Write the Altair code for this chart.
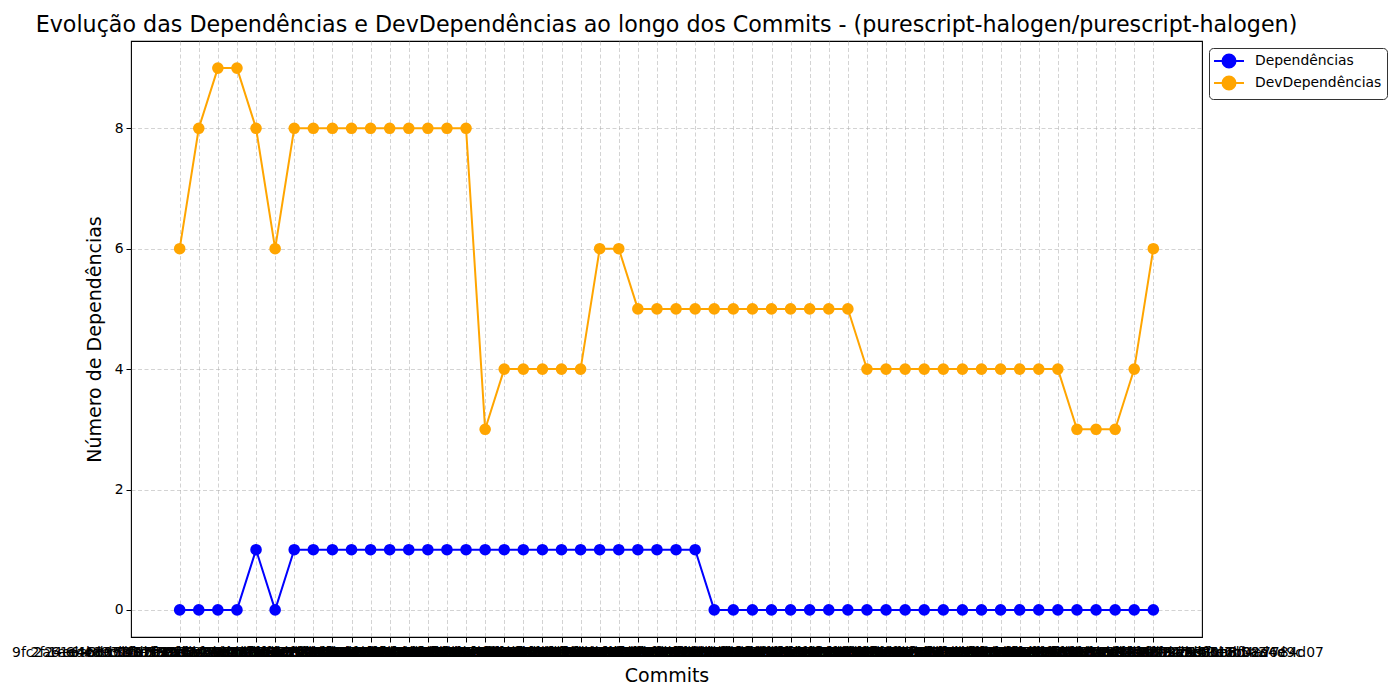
import altair as alt
import pandas as pd

commits = [
    "9fc2a61e4b8d73f05c19e2a7b6d408f3c15e9a72",
    "2f24e6a8c1d03b597f6e42a81c9d0b35e7f4a612",
    "1e6b4d9c02a7f38e5b16c4d90a2e7f13b8c56d04",
    "a4c8e31f07b29d6e54a1c8f03e7b29d46a15c8e0",
    "6d05b7e3a9c41f28d6e0b3a75c19f4e82d7a03b6",
    "c3b81f5e94a27d06c8e3b51f4a92d7e06b3c85f1",
    "4e7a92d0c61b38f5e4a7d29c03b6e81f5a4d7c92",
    "b58d3e1a7c04f96b2e5d8a31c7f0b49e6d2a5c83",
    "07f1c4a8e3d96b25f0c7a41e8d3b69f2c5a0e714",
    "d92e6b0f5a38c71e4d9b26f0a5c83e17b4d92a6f",
    "58a3d7c1e6f04b92a8d5c37e1f60b49d2a8c5e3f",
    "e16f9b4d2c75a08e3f1b6d94c2a75e08f3b1d6c9",
    "3c5a07e8b1d94f62c3a5e07b8d1f94a6c2e5b07d",
    "f8b2d5a6c09e37f1b8d2a5c60e93b7f1d8a2c5e6",
    "72e9c4b1a5d08f36e2c9b4a71d50f83e6c2b9a4d",
    "ad4f1c8e7b63d20a9f4c1e87b6d32a0f9c4e1b8a",
    "15c7e3a9d0b64f82c1e7a39d0b6f48e2a5c7e3d9",
    "8b0d6f2a4e91c37b5d0f6a24e91c7b3d5f0a6e24",
    "c6e3a81d7f05b94c2e6a38d1f7b05c94e2a6d381",
    "4a91f7c3e8b25d06a4f91c7e3b82d50a6f4c91e7",
    "e05b3d8f1a6c79e2b05d3f81a6c97e2d0b5f3a81",
    "93d7a2c5f0e48b16d93a7c25e0f48b1d6a93c7f2",
    "5f1e8b4a7d20c63f9e1b84a7d2c06f3e9b1a84d7",
    "b7c4f09e2a58d31b7c4e09f2a5d83c1b7e4f09a2",
    "2d8a6e3c9f14b70d28e6a3c9f41b7d02a8e6c39f",
    "f4a0c75e1b93d68f4c0a75e1d9b36f8a4c07e51b",
    "68e5b2d9a4c07f31e68b52d9c4a07e3f16b8e52d",
    "a1d9f36c8e02b74a1f9d36e8c02b7a4d1f936c8e",
    "3e7c05a9b2f68d14e7c0a59b2d6f8e14c7a05b9d",
    "c92b68f4e1a37d05c2b96f84e1d3a705b9c2f68e",
    "71f4d3b8a6e09c25f714db38a6c09e2f5d71b4a3",
    "d5a83e0c7f29b16d5a8e03c7b2f91d6a5e83c0f7",
    "0b6e9a4d3c58f72b06e9d4a3c5f87b2e06a9d4c3",
    "8f3c17e5b0d94a26f8c31e7b5d09a4f26c8e317b",
    "e47a2d9f6c13b85e4a72f9d6c1b38e5a47d2f96c",
    "59d0c8a3e7f26b14d59c0a8e3f7b2d614c5d0a8e",
    "b2e81f6d4a95c37b2e8f16d4c9a53e7b2f81d6c4",
    "16a5d3c0f8e49b72a16d5c30e8f4b97a2d16c53f",
    "ca397e2b5f18d06a3c97e2f5b1d80c6a39e72b5f",
    "7d4f6b19c3a8e25d74f6b91a3c8e52f7d4b69c1a",
    "e8c2a05d7b3f96e18c2a50d7f3b9e6c18a2d05b7",
    "43b9e76f2d0a18c53b9e7f62a0d81c4b39e76d2f",
    "f06d3c8a91e4b57f06c3d8a9e14b7f50d6c38a9e",
    "95a2f4e07c6d31b95a2e4f07d6c3b19a5f2e40c7",
    "2c7e91b3d5f08a42c7e1b93f5d0a84e2c79b13d5",
    "db48c6a2e93f17d4b8c6e2a9f317db4c86a2e93f",
    "60f5a3d8c17e29b60f5d3a8c71e92f6b05a3d8c1",
    "a7e2c94f0b6d83a7e2c49f0d6b38e7a2c94f0b6d",
    "1b9d7e5c3a28f04b19d7c5e3a82f04d1b9e7c5a3",
    "e3c6b08a4d91f75e3c6a08b4f9d17e53c6b08a4d",
    "8a0f2d6e9c47b13a80f2e6d9c74b31a8f02d6e9c",
    "c5d1b8e3f96a0c2e4b1f3a9d6c05e8b4a7784d07",
]

dependencias = [0, 0, 0, 0, 1, 0, 1, 1, 1, 1, 1, 1, 1, 1, 1, 1, 1, 1, 1, 1,
                1, 1, 1, 1, 1, 1, 1, 1, 0, 0, 0, 0, 0, 0, 0, 0, 0, 0, 0, 0,
                0, 0, 0, 0, 0, 0, 0, 0, 0, 0, 0, 0]
dev_dependencias = [6, 8, 9, 9, 8, 6, 8, 8, 8, 8, 8, 8, 8, 8, 8, 8, 3, 4, 4, 4,
                    4, 4, 6, 6, 5, 5, 5, 5, 5, 5, 5, 5, 5, 5, 5, 5, 4, 4, 4, 4,
                    4, 4, 4, 4, 4, 4, 4, 3, 3, 3, 4, 6]

series_names = ["Dependências", "DevDependências"]
series_colors = ["blue", "orange"]

rows = []
for i, c in enumerate(commits):
    rows.append({"idx": i, "commit": c, "serie": series_names[0], "valor": dependencias[i]})
for i, c in enumerate(commits):
    rows.append({"idx": i, "commit": c, "serie": series_names[1], "valor": dev_dependencias[i]})
df = pd.DataFrame(rows)

n = len(commits)
label_expr = "[" + ",".join("'" + c + "'" for c in commits) + "][datum.value]"

FONT = "DejaVu Sans"
TICK_FS = 13.9

# legend glyph: a short line with a filled circle in its middle
legend_path = ("M-1.14,0L0.07,0M1.93,0L3.14,0"
               "M1.93,0A0.93,0.93,0,1,1,0.07,0A0.93,0.93,0,1,1,1.93,0Z")

x_enc = alt.X(
    "idx:Q",
    scale=alt.Scale(domain=[-0.05 * (n - 1), (n - 1) * 1.05], nice=False, zero=False),
    axis=alt.Axis(
        title="Commits",
        values=list(range(n)),
        labelExpr=label_expr,
        labelAngle=0,
        labelOverlap=False,
        labelFlush=False,
        labelBound=False,
        labelLimit=0,
        titleFontSize=19,
        titlePadding=8,
    ),
)
y_enc = alt.Y(
    "valor:Q",
    scale=alt.Scale(domain=[-0.45, 9.45], nice=False, zero=False),
    axis=alt.Axis(
        title="Número de Dependências",
        values=[0, 2, 4, 6, 8],
        format="d",
        titleFontSize=19,
        titlePadding=10,
    ),
)
color_enc = alt.Color(
    "serie:N",
    scale=alt.Scale(domain=series_names, range=series_colors),
    legend=alt.Legend(
        title=None,
        orient="none",
        legendX=1078,
        legendY=7,
        labelFontSize=13.9,
        labelFont=FONT,
        labelColor="black",
        symbolType=legend_path,
        symbolSize=196,
        symbolStrokeWidth=2,
        symbolOpacity=1,
        strokeColor="#333333",
        fillColor="white",
        cornerRadius=4,
        padding=5,
        rowPadding=0,
        labelOffset=25,
    ),
)

base = alt.Chart(df).encode(x=x_enc, y=y_enc, color=color_enc, detail="serie:N")

lines = base.mark_line(strokeWidth=2)
points = base.mark_circle(size=135, opacity=1)

chart = (
    alt.layer(lines, points)
    .properties(
        width=1071,
        height=596,
        title=alt.TitleParams(
            "Evolução das Dependências e DevDependências ao longo dos Commits - (purescript-halogen/purescript-halogen)",
            fontSize=22.2,
            font=FONT,
            fontWeight="normal",
            anchor="middle",
            color="black",
            offset=5,
        ),
        padding={"left": 131, "top": 41, "right": 198, "bottom": 63},
        autosize="none",
    )
    .configure(font=FONT)
    .configure_view(stroke="black", strokeWidth=1.1)
    .configure_axis(
        labelFont=FONT,
        titleFont=FONT,
        labelFontSize=TICK_FS,
        labelColor="black",
        titleColor="black",
        titleFontWeight="normal",
        domain=False,
        tickColor="black",
        tickSize=5,
        tickWidth=1,
        labelPadding=3,
        grid=True,
        gridColor="#b0b0b0",
        gridOpacity=0.7,
        gridDash=[4, 2.5],
        gridWidth=0.8,
    )
)

chart.save("out.html", embed_options={"renderer": "svg", "actions": False})
